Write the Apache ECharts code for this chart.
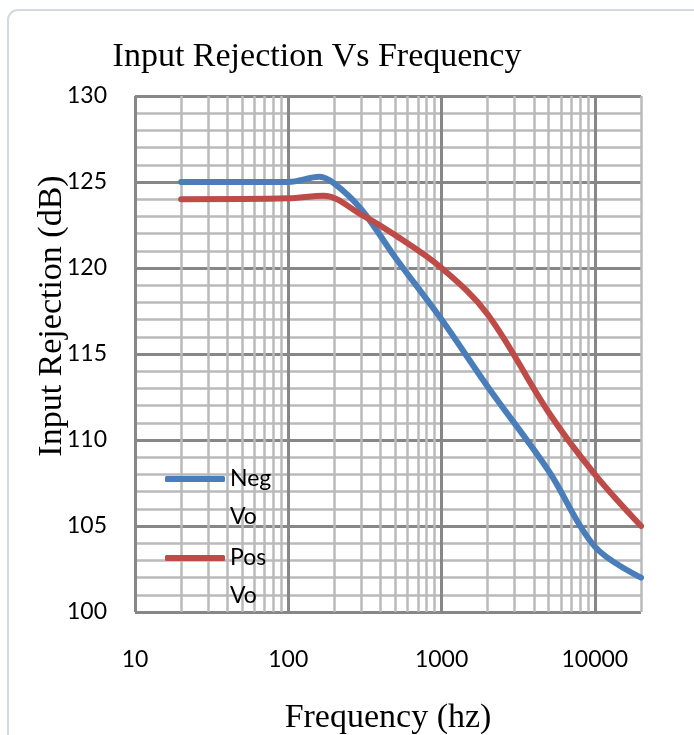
<!DOCTYPE html>
<html>
<head>
<meta charset="utf-8">
<script src="https://cdn.jsdelivr.net/npm/echarts@6/dist/echarts.min.js"></script>
<style>
html,body{margin:0;padding:0;background:#fff;}
#chart{width:694px;height:735px;}
</style>
</head>
<body>
<div id="chart"></div>
<script>
// ---- data ----
const titleText = 'Input Rejection Vs Frequency';
const xAxisName = 'Frequency (hz)';
const yAxisName = 'Input Rejection (dB)';
const seriesNames = ['Neg Vo', 'Pos Vo'];

const negFreq = [20, 100, 160, 200, 300, 500, 1000, 2000, 5000, 10000, 20000];
const negVals = [125.0, 125.0, 125.3, 124.9, 123.4, 120.6, 117.0, 113.1, 108.2, 103.8, 102.0];

const posFreq = [20, 100, 170, 300, 500, 1000, 2000, 5000, 10000, 20000];
const posVals = [124.0, 124.05, 124.2, 123.1, 121.9, 120.0, 117.3, 111.6, 108.0, 105.0];

const xTickLabels = ['10', '100', '1000', '10000'];
const yTicks = [100, 105, 110, 115, 120, 125, 130];
const minorGridFreqs = [20,30,40,50,60,70,80,90,200,300,400,500,600,700,800,900,
  2000,3000,4000,5000,6000,7000,8000,9000,20000];

// ---- chart ----
const chart = echarts.init(document.getElementById('chart'), null, {renderer: 'canvas'});
const blue = '#4A7EBB', red = '#BE4B48';
const major = '#878787', minor = '#BABABA';
const labelFont = 'Lato';
const serif = '"Liberation Serif", "Times New Roman", serif';

function pairs(xs, ys) { return xs.map((x, i) => [x, ys[i]]); }

function legendFor(name, top) {
  return {
    data: [name], left: 165, top: top, padding: 0, orient: 'vertical', z: 10,
    icon: 'roundRect', itemWidth: 60, itemHeight: 6, itemGap: 0,
    formatter: n => '\n' + n.replace(' ', '\n'),
    textStyle: {fontFamily: labelFont, fontSize: 23, color: '#000', lineHeight: 38}
  };
}

chart.setOption({
  animation: false,
  backgroundColor: '#fff',
  title: {
    text: titleText, left: 312, top: 35, textAlign: 'center',
    textStyle: {fontFamily: serif, fontWeight: 'normal', fontSize: 34, color: '#000'}
  },
  graphic: [{
    type: 'rect', shape: {x: 8, y: 10, width: 720, height: 760, r: 10}, silent: true, z: -10,
    style: {fill: 'none', stroke: '#D3DAE4', lineWidth: 2}
  }],
  legend: [legendFor(seriesNames[0], 422), legendFor(seriesNames[1], 501)],
  grid: {left: 135, top: 96, width: 506, height: 516, containLabel: false, outerBoundsMode: 'none'},
  xAxis: {
    type: 'log', logBase: 10, min: 10, max: 20000,
    name: xAxisName, nameLocation: 'middle', nameGap: 89, nameMoveOverlap: false,
    nameTextStyle: {fontFamily: serif, fontSize: 34, color: '#000'},
    axisLine: {show: false}, axisTick: {show: false},
    axisLabel: {
      margin: 36, fontFamily: labelFont, fontSize: 23, color: '#000', showMaxLabel: false,
      formatter: v => { const s = String(Math.round(v)); return xTickLabels.includes(s) ? s : ''; }
    },
    splitLine: {show: true, showMaxLine: false, lineStyle: {color: major, width: 3}},
    minorTick: {show: false}, minorSplitLine: {show: false}
  },
  yAxis: {
    type: 'value', min: yTicks[0], max: yTicks[yTicks.length - 1], interval: 5,
    name: yAxisName, nameLocation: 'middle', nameGap: 66, nameMoveOverlap: false,
    nameTextStyle: {fontFamily: serif, fontSize: 34, color: '#000', padding: [0, 0, 0, 76]},
    axisLine: {show: false}, axisTick: {show: false},
    axisLabel: {margin: 28, fontFamily: labelFont, fontSize: 23, color: '#000'},
    splitLine: {show: true, lineStyle: {color: major, width: 3}},
    minorTick: {show: false, splitNumber: 5},
    minorSplitLine: {show: true, lineStyle: {color: minor, width: 2.5}}
  },
  series: [
    {
      name: 'grid', type: 'line', data: [], silent: true, z: 1,
      markLine: {
        silent: true, symbol: 'none', animation: false, z: 1,
        label: {show: false},
        lineStyle: {color: minor, width: 2.5, type: 'solid'},
        emphasis: {disabled: true},
        data: minorGridFreqs.map(f => ({xAxis: f}))
      }
    },
    {
      name: seriesNames[0], type: 'line', data: pairs(negFreq, negVals), z: 5,
      smooth: 0.35, showSymbol: false, symbol: 'none',
      lineStyle: {color: blue, width: 6, cap: 'round', join: 'round'}, itemStyle: {color: blue}
    },
    {
      name: seriesNames[1], type: 'line', data: pairs(posFreq, posVals), z: 5,
      smooth: 0.35, showSymbol: false, symbol: 'none',
      lineStyle: {color: red, width: 6, cap: 'round', join: 'round'}, itemStyle: {color: red}
    }
  ]
});
</script>
</body>
</html>
